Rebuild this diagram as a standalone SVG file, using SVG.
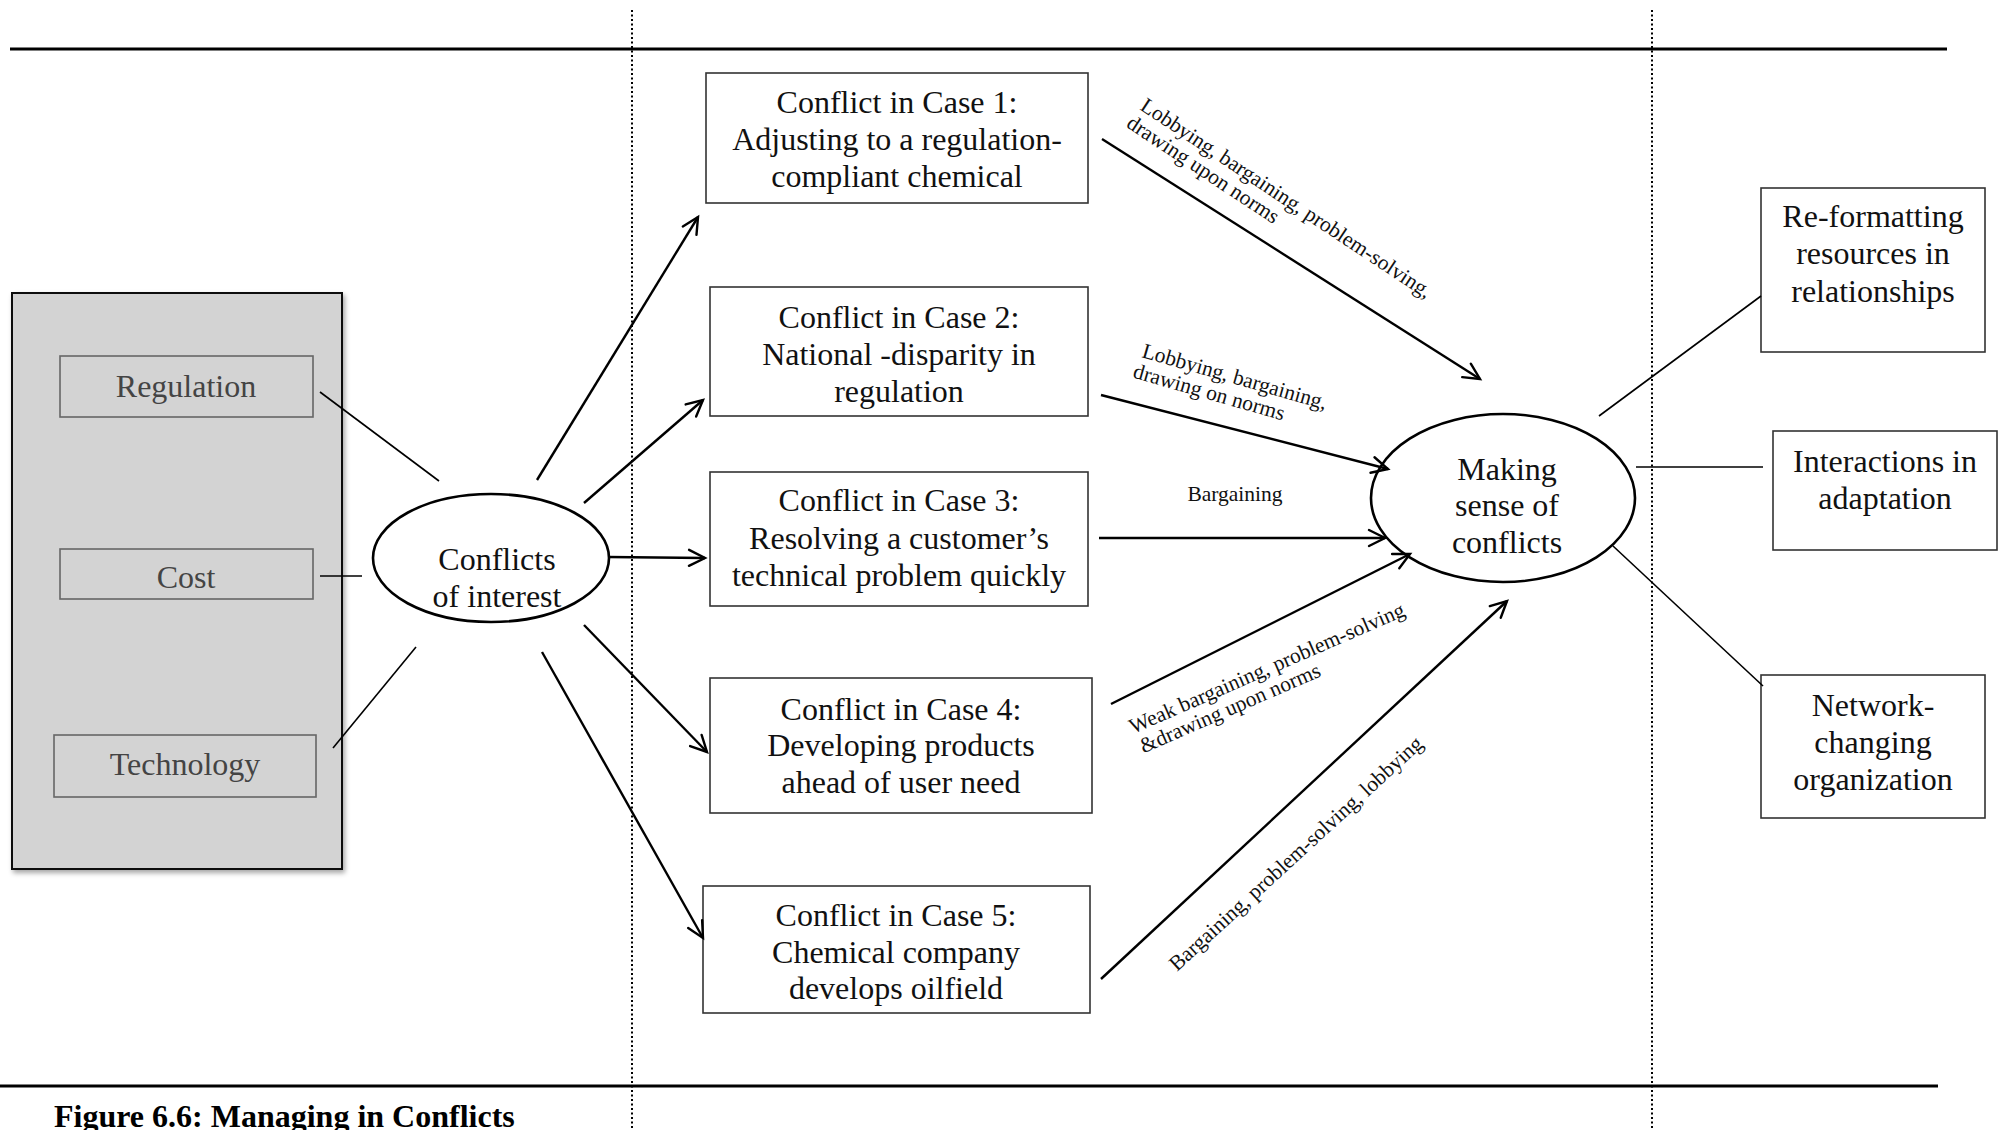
<svg xmlns="http://www.w3.org/2000/svg" width="2002" height="1130" viewBox="0 0 2002 1130">
  <defs>
    <marker id="open-arrow" markerUnits="userSpaceOnUse" markerWidth="24" markerHeight="24" viewBox="-2 -2 24 24" refX="18" refY="10" orient="auto">
      <path d="M2,2 L18,10 L2,18" fill="none" stroke="#000" stroke-width="2.4" stroke-linecap="round" stroke-linejoin="miter"/>
    </marker>
    <filter id="soft-shadow" x="-10%" y="-10%" width="130%" height="130%">
      <feDropShadow dx="2" dy="3" stdDeviation="2.5" flood-color="#000" flood-opacity="0.35"/>
    </filter>
  </defs>
  <style>
    .serif { font-family: "Liberation Serif", "Times New Roman", serif; }
    .node-text { font-family: "Liberation Serif", "Times New Roman", serif; font-size: 32px; fill: #111; text-anchor: middle; }
    .factor-text { font-family: "Liberation Serif", "Times New Roman", serif; font-size: 32px; fill: #444; text-anchor: middle; }
    .label { font-family: "Liberation Serif", "Times New Roman", serif; font-size: 21.5px; fill: #111; }
    .box { fill: #fff; stroke: #333; stroke-width: 1.6; }
    .factor-box { fill: none; stroke: #666; stroke-width: 1.6; }
    .bubble { fill: #fff; stroke: #000; stroke-width: 2.6; }
    .arrow { stroke: #000; stroke-width: 2.4; fill: none; marker-end: url(#open-arrow); }
    .link { stroke: #000; stroke-width: 1.6; fill: none; }
    .rule { stroke: #000; stroke-width: 3; }
    .divider { stroke: #000; stroke-width: 2; stroke-dasharray: 2 2.5; }
  </style>

  <rect width="2002" height="1130" fill="#fff"/>

  <!-- page frame: horizontal rules and dotted column dividers -->
  <g id="frame">
    <line class="rule" x1="10" y1="49" x2="1947" y2="49"/>
    <line class="rule" x1="0" y1="1086" x2="1938" y2="1086"/>
    <line class="divider" x1="632" y1="10" x2="632" y2="1130"/>
    <line class="divider" x1="1652" y1="10" x2="1652" y2="1130"/>
  </g>

  <!-- sources of conflict -->
  <g id="factors">
    <rect x="12" y="293" width="330" height="576" fill="#d3d3d3" stroke="#111" stroke-width="2" filter="url(#soft-shadow)"/>
    <g id="regulation">
      <rect class="factor-box" x="60" y="356" width="253" height="61"/>
      <text class="factor-text" x="186" y="397">Regulation</text>
    </g>
    <g id="cost">
      <rect class="factor-box" x="60" y="549" width="253" height="50"/>
      <text class="factor-text" x="186" y="588">Cost</text>
    </g>
    <g id="technology">
      <rect class="factor-box" x="54" y="735" width="262" height="62"/>
      <text class="factor-text" x="185" y="775">Technology</text>
    </g>
  </g>

  <g id="conflicts-of-interest">
    <ellipse class="bubble" cx="491" cy="558" rx="118" ry="64"/>
    <text class="node-text"><tspan x="497" y="570">Conflicts</tspan><tspan x="497" y="607">of interest</tspan></text>
  </g>

  <g id="case-1">
    <rect class="box" x="706" y="73" width="382" height="130"/>
    <text class="node-text"><tspan x="897" y="113">Conflict in Case 1:</tspan><tspan x="897" y="150">Adjusting to a regulation-</tspan><tspan x="897" y="187">compliant chemical</tspan></text>
  </g>
  <g id="case-2">
    <rect class="box" x="710" y="287" width="378" height="129"/>
    <text class="node-text"><tspan x="899" y="328">Conflict in Case 2:</tspan><tspan x="899" y="365">National -disparity in</tspan><tspan x="899" y="402">regulation</tspan></text>
  </g>
  <g id="case-3">
    <rect class="box" x="710" y="472" width="378" height="134"/>
    <text class="node-text"><tspan x="899" y="511">Conflict in Case 3:</tspan><tspan x="899" y="549">Resolving a customer’s</tspan><tspan x="899" y="586">technical problem quickly</tspan></text>
  </g>
  <g id="case-4">
    <rect class="box" x="710" y="678" width="382" height="135"/>
    <text class="node-text"><tspan x="901" y="720">Conflict in Case 4:</tspan><tspan x="901" y="756">Developing products</tspan><tspan x="901" y="793">ahead of user need</tspan></text>
  </g>
  <g id="case-5">
    <rect class="box" x="703" y="886" width="387" height="127"/>
    <text class="node-text"><tspan x="896" y="926">Conflict in Case 5:</tspan><tspan x="896" y="963">Chemical company</tspan><tspan x="896" y="999">develops oilfield</tspan></text>
  </g>

  <g id="making-sense">
    <ellipse class="bubble" cx="1503" cy="498" rx="132" ry="84"/>
    <text class="node-text"><tspan x="1507" y="480">Making</tspan><tspan x="1507" y="516">sense of</tspan><tspan x="1507" y="553">conflicts</tspan></text>
  </g>

  <g id="reformatting">
    <rect class="box" x="1761" y="188" width="224" height="164"/>
    <text class="node-text"><tspan x="1873" y="227">Re-formatting</tspan><tspan x="1873" y="264">resources in</tspan><tspan x="1873" y="302">relationships</tspan></text>
  </g>
  <g id="interactions">
    <rect class="box" x="1773" y="431" width="224" height="119"/>
    <text class="node-text"><tspan x="1885" y="472">Interactions in</tspan><tspan x="1885" y="509">adaptation</tspan></text>
  </g>
  <g id="network-changing">
    <rect class="box" x="1761" y="675" width="224" height="143"/>
    <text class="node-text"><tspan x="1873" y="716">Network-</tspan><tspan x="1873" y="753">changing</tspan><tspan x="1873" y="790">organization</tspan></text>
  </g>

  <g id="connectors">
    <!-- factors to conflicts of interest -->
    <line class="link" x1="320" y1="392" x2="439" y2="481"/>
    <line class="link" x1="320" y1="576" x2="362" y2="576"/>
    <line class="link" x1="333" y1="748" x2="416" y2="647"/>
    <!-- conflicts of interest to cases -->
    <line class="arrow" x1="537" y1="480" x2="698" y2="217"/>
    <line class="arrow" x1="584" y1="503" x2="703" y2="400"/>
    <line class="arrow" x1="608" y1="557" x2="705" y2="558"/>
    <line class="arrow" x1="584" y1="625" x2="707" y2="752"/>
    <line class="arrow" x1="542" y1="652" x2="703" y2="938"/>
    <!-- cases to making sense -->
    <line class="arrow" x1="1102" y1="139" x2="1480" y2="379"/>
    <line class="arrow" x1="1101" y1="395" x2="1388" y2="469"/>
    <line class="arrow" x1="1099" y1="538" x2="1385" y2="538"/>
    <line class="arrow" x1="1111" y1="704" x2="1410" y2="554"/>
    <line class="arrow" x1="1101" y1="979" x2="1507" y2="601"/>
    <!-- making sense to outcomes -->
    <line class="link" x1="1599" y1="416" x2="1761" y2="296"/>
    <line class="link" x1="1636" y1="467" x2="1763" y2="467"/>
    <line class="link" x1="1613" y1="546" x2="1763" y2="686"/>

    <!-- connector labels -->
    <text class="label" transform="translate(1139,109) rotate(33.5)"><tspan x="0" y="0">Lobbying, bargaining, problem-solving,</tspan><tspan x="-2" y="22">drawing upon norms</tspan></text>
    <text class="label" transform="translate(1141,357) rotate(16)"><tspan x="0" y="0">Lobbying, bargaining,</tspan><tspan x="-3" y="22">drawing on norms</tspan></text>
    <text class="label" x="1235" y="501" text-anchor="middle">Bargaining</text>
    <text class="label" transform="translate(1133,734) rotate(-23.5)"><tspan x="0" y="0">Weak bargaining, problem-solving</tspan><tspan x="2" y="22">&amp;drawing upon norms</tspan></text>
    <text class="label" transform="translate(1177,972) rotate(-42.5)">Bargaining, problem-solving, lobbying</text>
  </g>

  <text class="serif" x="54" y="1127" font-size="32" font-weight="bold" fill="#000">Figure 6.6: Managing in Conflicts</text>
</svg>
